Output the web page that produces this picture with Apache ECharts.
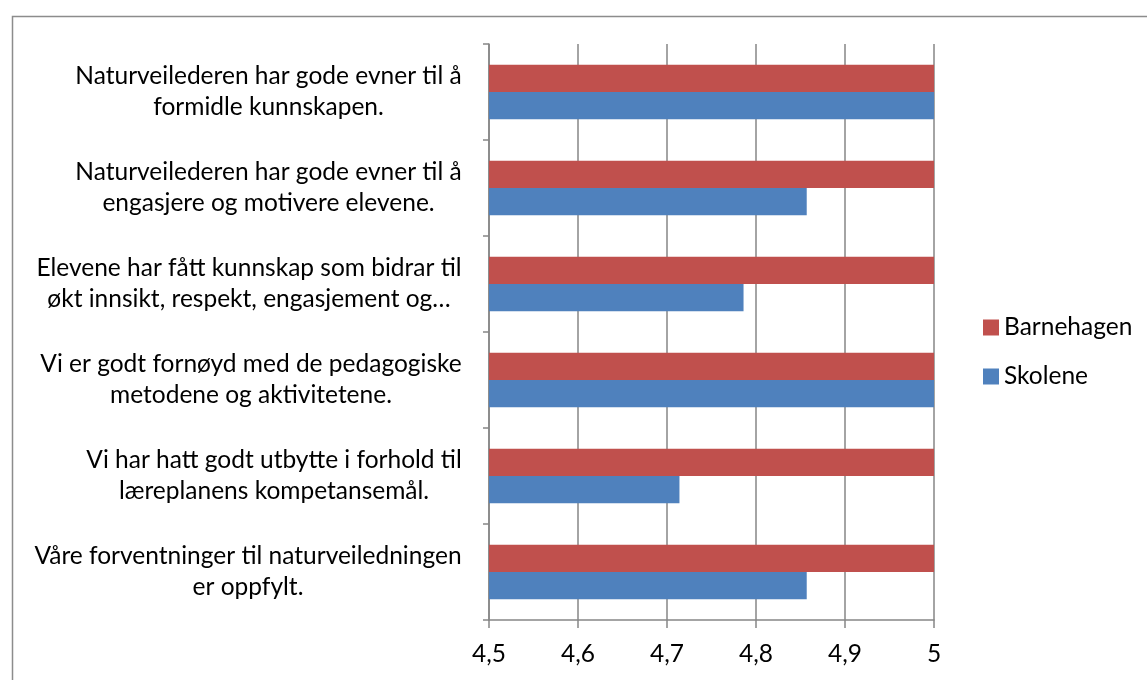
<!DOCTYPE html>
<html>
<head>
<meta charset="utf-8">
<script src="https://cdn.jsdelivr.net/npm/echarts@6/dist/echarts.min.js"></script>
<style>
html,body{margin:0;padding:0;background:#fff;}
#chart{width:1147px;height:680px;}
</style>
</head>
<body>
<div id="chart"></div>
<script>
const categories = [
  'Naturveilederen har gode evner til å\nformidle kunnskapen.',
  'Naturveilederen har gode evner til å\nengasjere og motivere elevene.',
  'Elevene har fått kunnskap som bidrar til\nøkt innsikt, respekt, engasjement og…',
  'Vi er godt fornøyd med de pedagogiske\nmetodene og aktivitetene.',
  'Vi har hatt godt utbytte i forhold til\nlæreplanens kompetansemål.',
  'Våre forventninger til naturveiledningen\ner oppfylt.'
];
const seriesNames = ['Barnehagen', 'Skolene'];
const barnehagen = [5, 5, 5, 5, 5, 5];
const skolene = [5, 4.857, 4.786, 5, 4.714, 4.857];
const xTicks = { min: 4.5, max: 5, interval: 0.1 };

const FONT = 'Lato';
const FS = 24.5;
const cv = document.createElement('canvas').getContext('2d');
cv.font = FS + 'px ' + FONT;
const rich = {};
categories.forEach((c, i) => {
  const w = Math.max.apply(null, c.split('\n').map(l => cv.measureText(l).width));
  rich['r' + i] = { width: Math.ceil(w), align: 'center', fontFamily: FONT, fontSize: FS, lineHeight: 31, color: '#000' };
});

const chart = echarts.init(document.getElementById('chart'), null, { renderer: 'canvas' });
const gray = '#868686';
chart.setOption({
  animation: false,
  textStyle: { fontFamily: FONT },
  graphic: [{
    type: 'rect', left: 10, top: 14, silent: true,
    shape: { width: 1200, height: 700 },
    style: { fill: 'none', stroke: '#8c8c8c', lineWidth: 1.5 }
  }],
  grid: { left: 489, right: 213, top: 44, bottom: 60, containLabel: false },
  legend: {
    orient: 'vertical', left: 983, top: 315, padding: 0,
    itemWidth: 16, itemHeight: 16, itemGap: 24, icon: 'rect',
    textStyle: { fontFamily: FONT, fontSize: FS, color: '#000' },
    data: seriesNames
  },
  xAxis: {
    type: 'value', min: xTicks.min, max: xTicks.max, interval: xTicks.interval,
    axisLine: { show: true, lineStyle: { color: gray, width: 1.5 } },
    axisTick: { show: true, length: 8, lineStyle: { color: gray, width: 1.5 } },
    splitLine: { show: true, lineStyle: { color: gray, width: 1.5 } },
    axisLabel: {
      margin: 22, fontFamily: FONT, fontSize: FS, color: '#000',
      formatter: v => String(Math.round(v * 10) / 10).replace('.', ',')
    }
  },
  yAxis: {
    type: 'category', data: categories, inverse: true,
    axisLine: { show: true, lineStyle: { color: gray, width: 1.5 } },
    axisTick: { show: true, length: 6, lineStyle: { color: gray, width: 1.5 } },
    axisLabel: {
      margin: 27, align: 'right',
      formatter: (v, i) => '{r' + i + '|' + v + '}',
      rich: rich
    }
  },
  series: [
    { name: seriesNames[0], type: 'bar', data: barnehagen, barCategoryGap: '43%', barGap: '0%',
      itemStyle: { color: '#C0504D' } },
    { name: seriesNames[1], type: 'bar', data: skolene, barCategoryGap: '43%', barGap: '0%',
      itemStyle: { color: '#4F81BD' } }
  ]
});
</script>
</body>
</html>
